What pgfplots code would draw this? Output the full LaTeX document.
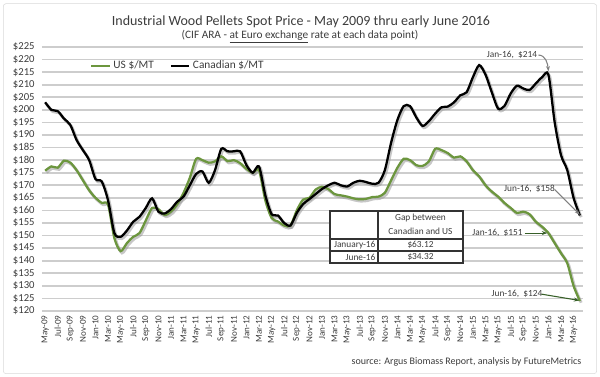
\documentclass[border=0pt]{standalone}
\usepackage{pgfplots}
\pgfplotsset{compat=1.18}
\usepackage{pgfplotstable}
\usepackage{fontspec}
\setmainfont{Carlito}
\usetikzlibrary{arrows.meta}
\definecolor{usgreen}{RGB}{108,150,62}
\definecolor{darkgreen}{RGB}{55,95,40}
\definecolor{txt}{RGB}{60,60,60}
\definecolor{gridc}{RGB}{205,205,205}

\pgfplotstableread{
m can us
0 203 175.8
1 200 177.5
2 199.5 177
3 196.5 179.8
4 194 179
5 188 176
6 184 172
7 180 168
8 172.5 165
9 171.5 163
10 164 162.3
11 151 149
12 149.5 143.8
13 152 147
14 155.5 149.5
15 157.5 151
16 161 156
17 164.8 161
18 159.5 160.5
19 158.8 158.2
20 160.5 159.5
21 163.5 162.5
22 165.5 167
23 170 173
24 174.5 180.5
25 175.5 180
26 171 179
27 176 179.5
28 184.5 181.5
29 183.5 179.6
30 183.5 180
31 183.5 178.8
32 178 176.5
33 175 175
34 177.5 176
35 166 164
36 158.5 157
37 158 155.6
38 155 154
39 154 154
40 159 160
41 162.5 164.3
42 164.5 165
43 166.5 168.3
44 168.5 169.4
45 170 168.5
46 171 166.5
47 170 166
48 169.5 165.5
49 171 164.8
50 171.8 164.4
51 171.3 164.6
52 170.6 165.3
53 171 165.5
54 176 167
55 187 172
56 196 177
57 201.5 180.5
58 201.5 180
59 197 178
60 193.6 177.7
61 195.5 179.5
62 198.5 184.5
63 201 184
64 201.3 182.8
65 203 181
66 205.8 181.5
67 207 179.5
68 213 176
69 217.8 173.5
70 214 170
71 207 167.5
72 200.5 165.5
73 201.5 163
74 206.5 161
75 209.6 159
76 208.5 159.5
77 207.9 158.5
78 210.5 155.5
79 213 153.5
80 214 151
81 195 147
82 182 143
83 176 139
84 165 130
85 158 124
}\prices

\begin{document}
\begin{tikzpicture}
\path[use as bounding box] (0,0) rectangle (450pt,282.75pt);
\draw[gray!30, rounded corners=2pt] (2.5pt,2.5pt) rectangle (447.5pt,280pt);
\begin{axis}[
  at={(31.5pt,49.5pt)}, anchor=south west,
  scale only axis, width=405.75pt, height=198pt,
  xmin=-0.5, xmax=85.5, ymin=120, ymax=225,
  ytick={120,125,...,225},
  xtick={0,2,...,84},
  xticklabels={May-09,Jul-09,Sep-09,Nov-09,
    Jan-10,Mar-10,May-10,Jul-10,Sep-10,Nov-10,
    Jan-11,Mar-11,May-11,Jul-11,Sep-11,Nov-11,
    Jan-12,Mar-12,May-12,Jul-12,Sep-12,Nov-12,
    Jan-13,Mar-13,May-13,Jul-13,Sep-13,Nov-13,
    Jan-14,Mar-14,May-14,Jul-14,Sep-14,Nov-14,
    Jan-15,Mar-15,May-15,Jul-15,Sep-15,Nov-15,
    Jan-16,Mar-16,May-16},
  axis line style={draw=none},
  major tick length=0pt,
  ymajorgrids, grid style={gridc, line width=1.2pt},
  /pgf/number format/assume math mode=true,
  yticklabel={\$\pgfmathprintnumber{\tick}},
  yticklabel style={font=\fontsize{8}{9}\selectfont, text=txt, anchor=east, xshift=-2pt},
  xticklabel style={font=\fontsize{6.8}{8}\selectfont, text=txt, rotate=90, anchor=east},
  clip=false,
  legend columns=2,
  legend style={at={(0.252,0.928)}, anchor=center, draw=none, fill=none,
    font=\fontsize{8.5}{10}\selectfont, text=txt,
    /tikz/every even column/.append style={column sep=10pt}},
  legend image code/.code={\draw[#1] (0cm,0cm) -- (0.48cm,0cm);},
]
\addplot[black!40, opacity=0.55, line width=2.2pt, smooth, tension=0.45, xshift=1pt, yshift=-1.3pt, forget plot] table[x=m,y=us]{\prices};
\addplot[black!40, opacity=0.55, line width=2.2pt, smooth, tension=0.45, xshift=1pt, yshift=-1.3pt, forget plot] table[x=m,y=can]{\prices};
\addplot[usgreen, line width=1.7pt, smooth, tension=0.45] table[x=m,y=us]{\prices};
\addlegendentry{US \$/MT}
\addplot[black, line width=1.7pt, smooth, tension=0.45] table[x=m,y=can]{\prices};
\addlegendentry{Canadian \$/MT}

\node[font=\fontsize{7}{8}\selectfont, text=txt] at (axis cs:74.2,221.8) {Jan-16,\ \ \$214};
\draw[-{Stealth[length=4pt]}, gray, line width=0.8pt] (axis cs:78.4,221.8) to[out=0,in=95] (axis cs:80,215.3);
\node[font=\fontsize{7}{8}\selectfont, text=txt] at (axis cs:77,168.5) {Jun-16,\ \ \$158};
\draw[-{Stealth[length=4pt]}, gray, line width=0.8pt] (axis cs:81,168.3) -- (axis cs:85,158.3);
\node[font=\fontsize{7}{8}\selectfont, text=txt] at (axis cs:71.9,151) {Jan-16,\ \ \$151};
\draw[-{Stealth[length=4pt]}, darkgreen, line width=0.8pt] (axis cs:76.2,151) -- (axis cs:79.8,151);
\node[font=\fontsize{7}{8}\selectfont, text=txt] at (axis cs:75,126.7) {Jun-16,\ \ \$124};
\draw[-{Stealth[length=4pt]}, darkgreen, line width=0.8pt] (axis cs:78.9,126.7) -- (axis cs:84.9,124.2);
\end{axis}

\begin{scope}[x=0.75pt, y=-0.75pt, shift={(0,282.75pt)}]
\node[font=\fontsize{10.5}{12}\selectfont, text=txt] at (301,22) {Industrial Wood Pellets Spot Price - May 2009 thru early June 2016};
\node[font=\fontsize{8.5}{10}\selectfont, text=txt] at (300,37) {(CIF ARA - \underline{at Euro exchange} rate at each data point)};
\node[anchor=east, font=\fontsize{7.5}{9}\selectfont, text=txt] at (586,362) {source: Argus Biomass Report, analysis by FutureMetrics};
% table
\fill[white] (330,211) rectangle (463,263);
\draw[black!80, line width=0.8pt] (330,211) rectangle (463,263);
\draw[black!80, line width=0.8pt] (378,211) -- (378,263);
\draw[black!80, line width=0.8pt] (330,239) -- (463,239);
\draw[black!80, line width=0.8pt] (330,251) -- (463,251);
\begin{scope}[every node/.style={font=\fontsize{7}{8}\selectfont, text=txt, inner sep=1pt}]
\node at (420.5,218.5) {Gap between};
\node at (420.5,231.5) {Canadian and US};
\node[anchor=east] at (377,245) {January-16};
\node at (420.5,245) {\$63.12};
\node[anchor=east] at (377,257) {June-16};
\node at (420.5,257) {\$34.32};
\end{scope}
\end{scope}
\end{tikzpicture}
\end{document}
